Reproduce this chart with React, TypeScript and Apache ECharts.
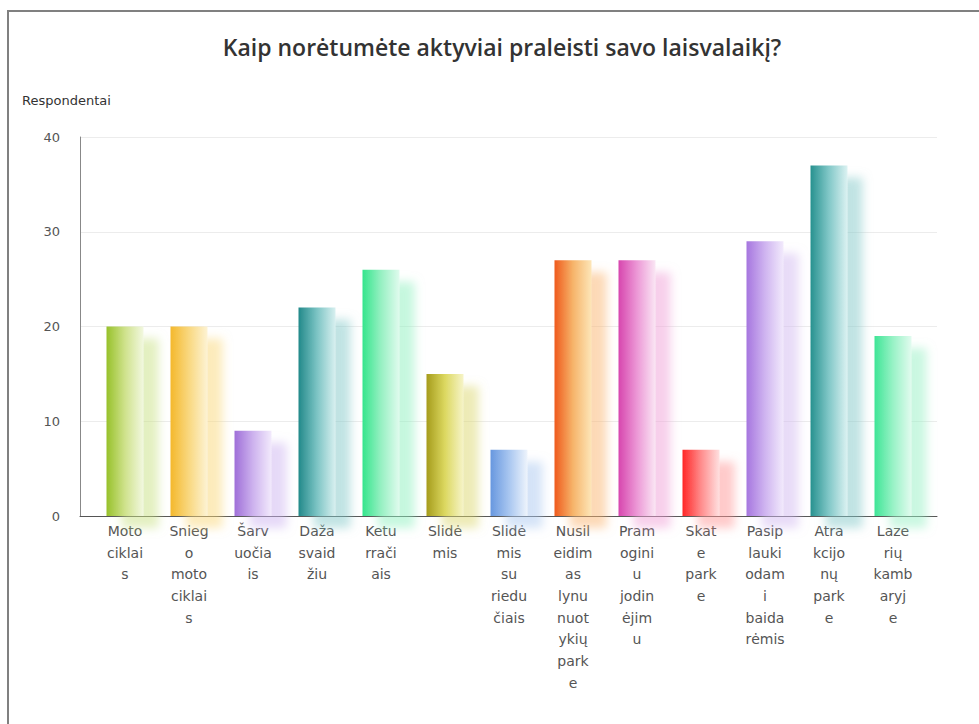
import React, { useEffect, useRef } from "react";
import * as echarts from "echarts";

const titleText = "Kaip norėtumėte aktyviai praleisti savo laisvalaikį?";
const yAxisName = "Respondentai";

const categories = [
  "Motociklais",
  "Sniego motociklais",
  "Šarvuočiais",
  "Dažasvaidžiu",
  "Keturračiais",
  "Slidėmis",
  "Slidėmis su riedučiais",
  "Nusileidimas lynu nuotykių parke",
  "Pramoginiu jodinėjimu",
  "Skate parke",
  "Pasiplaukiodami baidarėmis",
  "Atrakcijonų parke",
  "Lazerių kambaryje",
];

const tickLabels = [
  "Moto\nciklai\ns",
  "Snieg\no\nmoto\nciklai\ns",
  "Šarv\nuočia\nis",
  "Daža\nsvaid\nžiu",
  "Ketu\nrrači\nais",
  "Slidė\nmis",
  "Slidė\nmis\nsu\nriedu\nčiais",
  "Nusil\neidim\nas\nlynu\nnuot\nykių\npark\ne",
  "Pram\nogini\nu\njodin\nėjim\nu",
  "Skat\ne\npark\ne",
  "Pasip\nlauki\nodam\ni\nbaida\nrėmis",
  "Atra\nkcijo\nnų\npark\ne",
  "Laze\nrių\nkamb\naryj\ne",
];

const values = [20, 20, 9, 22, 26, 15, 7, 27, 27, 7, 29, 37, 19];

const darkColors = [
  "#97c12a", "#f4b82c", "#9f6fd8", "#22898a", "#34e58c", "#a59c1c", "#6797df",
  "#ef5a1c", "#d746ae", "#ff2626", "#a676df", "#27918f", "#3ee596",
];
const midColors = [
  "#cfe28c", "#f9d880", "#cdb2ee", "#7cc4c4", "#96f0c2", "#dcd860", "#a8c6f0",
  "#f6b46a", "#ec98d6", "#ff8c8c", "#cfb4f0", "#82c8c8", "#98f2c6",
];
const lightColors = [
  "#f2f8e0", "#fdf3d4", "#f2eafc", "#d8f0f0", "#e0fbee", "#f6f4c8", "#eef4fc",
  "#fde6b8", "#fae6f4", "#ffe0e0", "#f2eafc", "#dcf2f2", "#e2fbef",
];
const shadowColors = [
  "rgba(200,225,130,0.5)", "rgba(250,215,120,0.5)", "rgba(205,180,240,0.5)",
  "rgba(130,200,200,0.5)", "rgba(140,240,190,0.5)", "rgba(220,215,110,0.5)",
  "rgba(170,200,240,0.5)", "rgba(250,180,110,0.5)", "rgba(240,160,215,0.5)",
  "rgba(255,150,150,0.5)", "rgba(210,185,240,0.5)", "rgba(130,200,200,0.5)",
  "rgba(150,240,195,0.5)",
];

const yMin = 0;
const yMax = 40;
const yInterval = 10;

export default function App() {
  const ref = useRef<HTMLDivElement>(null);

  useEffect(() => {
    if (!ref.current) return;
    const chart = echarts.init(ref.current, undefined, { renderer: "svg" });
    const fontFamily = "'DejaVu Sans', Verdana, sans-serif";

    const barData = values.map((v, i) => ({
      value: v,
      itemStyle: {
        color: new echarts.graphic.LinearGradient(0, 0, 1, 0, [
          { offset: 0, color: darkColors[i] },
          { offset: 0.5, color: midColors[i] },
          { offset: 1, color: lightColors[i] },
        ]),
        shadowColor: shadowColors[i],
        shadowOffsetX: 15,
        shadowOffsetY: 12,
        shadowBlur: 10,
      },
    }));

    chart.setOption({
      animation: false,
      backgroundColor: "#ffffff",
      title: {
        text: titleText,
        left: 497,
        top: 30,
        textAlign: "center",
        textStyle: {
          fontFamily: "'Open Sans', sans-serif",
          fontSize: 23,
          fontWeight: 600,
          color: "#333333",
        },
      },
      grid: [
        { left: 80, right: 42, top: 137, bottom: 208, containLabel: false },
        { left: 93, right: 54, top: 137, bottom: 208, containLabel: false },
      ],
      xAxis: [
        {
          type: "category",
          gridIndex: 0,
          data: categories,
          axisLine: { show: true, lineStyle: { color: "#555555", width: 1 } },
          axisTick: { show: false },
          axisLabel: { show: false },
          splitLine: { show: false },
        },
        {
          type: "category",
          gridIndex: 1,
          data: categories,
          axisLine: { show: false },
          axisTick: { show: false },
          splitLine: { show: false },
          axisLabel: {
            interval: 0,
            margin: 4,
            fontFamily,
            fontSize: 14,
            lineHeight: 21.7,
            color: "#555555",
            formatter: (_v: string, idx: number) => tickLabels[idx],
          },
        },
      ],
      yAxis: [
        {
          type: "value",
          gridIndex: 0,
          min: yMin,
          max: yMax,
          interval: yInterval,
          name: yAxisName,
          nameLocation: "end",
          nameGap: 30,
          nameTextStyle: {
            fontFamily,
            fontSize: 13,
            color: "#333333",
            align: "left",
            padding: [0, 0, 0, -58],
          },
          axisLine: { show: true, lineStyle: { color: "#888888", width: 1 } },
          axisTick: { show: false },
          axisLabel: {
            margin: 20,
            fontFamily,
            fontSize: 13,
            color: "#555555",
          },
          splitLine: { show: true, lineStyle: { color: "#ececec", width: 1 } },
        },
        {
          type: "value",
          gridIndex: 1,
          min: yMin,
          max: yMax,
          interval: yInterval,
          show: false,
          splitLine: { show: false },
        },
      ],
      series: [
        {
          type: "bar",
          xAxisIndex: 1,
          yAxisIndex: 1,
          barWidth: 37,
          data: barData,
        },
      ],
    });

    return () => {
      chart.dispose();
    };
  }, []);

  return (
    <div
      style={{
        position: "fixed",
        left: 0,
        top: 0,
        width: 979,
        height: 724,
        background: "#ffffff",
      }}
    >
      <div ref={ref} style={{ position: "absolute", left: 0, top: 0, width: 979, height: 724 }} />
      <div
        style={{
          position: "absolute",
          left: 7,
          top: 10,
          right: 0,
          bottom: 0,
          borderTop: "2px solid #808080",
          borderLeft: "2px solid #808080",
          pointerEvents: "none",
        }}
      />
    </div>
  );
}
